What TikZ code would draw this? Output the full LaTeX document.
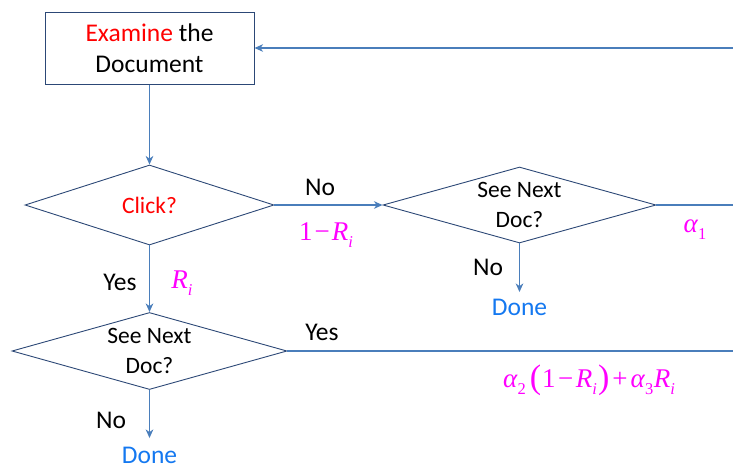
\documentclass[tikz,border=0pt]{standalone}
\usepackage{amsmath}
\usepackage{fontspec}
\setmainfont{Carlito}
\newfontfamily\timesfont{Liberation Serif}
\usetikzlibrary{shapes.geometric,arrows.meta,positioning}
\definecolor{linkblue}{RGB}{74,126,187}
\definecolor{edgeblue}{RGB}{44,72,118}
\definecolor{examred}{RGB}{255,0,0}
\definecolor{probmag}{RGB}{255,0,255}
\definecolor{doneblue}{RGB}{20,120,240}
% lowered index and tall brackets for the probabilities
\newcommand\idx[1]{\raisebox{-0.27em}{\fontsize{16.5}{16.5}\selectfont #1}}
\newcommand\tallbr[1]{{\fontsize{34}{34}\selectfont\raisebox{-1.5pt}{#1}}}
\tikzstyle{process} = [draw=edgeblue, line width=1pt, rectangle, inner sep=0pt,
    minimum width=209pt, minimum height=72pt, align=center,
    font=\fontsize{25.5}{31}\selectfont]
\tikzstyle{decision} = [draw=edgeblue, line width=0.9pt, diamond, inner sep=0pt]
\tikzstyle{asktext} = [align=center, inner sep=0pt, font=\fontsize{23.5}{30}\selectfont]
\tikzstyle{link} = [draw=linkblue, line width=1.5pt]
\tikzstyle{linkarrow} = [link, -{Stealth[length=8.5pt,width=7.5pt,inset=2.5pt]}]
\tikzstyle{answer} = [anchor=base, inner sep=0pt, font=\fontsize{25.5}{31}\selectfont]
\tikzstyle{prob} = [anchor=base, inner sep=0pt, text=probmag, font=\timesfont\fontsize{27}{31}\selectfont]
\tikzstyle{finish} = [answer, anchor=center, text=doneblue]

\begin{document}
\begin{tikzpicture}[x=1pt, y=1pt]
  \useasboundingbox (0,0) rectangle (733,-469);
  \node [process] (exam) at (149.5,-48) {\textcolor{examred}{Examine} the\\Document};
  \node [decision, minimum width=249pt, minimum height=80pt, below of=exam, node distance=157pt,
    label={[asktext, text=examred]center:Click?}] (click) {};
  \node [decision, minimum width=273pt, minimum height=76pt, right of=click, node distance=370pt,
    label={[asktext]center:{See Next\\Doc?}}] (next1) {};
  \node [decision, minimum width=275pt, minimum height=77pt, below of=click, node distance=146pt,
    label={[asktext]center:{See Next\\Doc?}}] (next2) {};
  \node [finish, below of=next1, node distance=102pt] (done1) {Done};
  \node [finish, below of=next2, node distance=104pt] (done2) {Done};
  % right edge, the loop back is cut off
  \coordinate (rtop) at (733,-48);
  \coordinate (rmid) at (733,-205);
  \coordinate (rlow) at (733,-351);

  \draw [linkarrow] (exam) -- (click);
  \draw [linkarrow] (click) -- (next1);
  \draw [linkarrow] (click) -- (next2);
  \draw [link] (next1) -- (rmid);
  \draw [link] (next2) -- (rlow);
  \draw [linkarrow] (rtop) -- (exam);
  \draw [linkarrow, shorten >=6.5pt] (next1) -- (done1);
  \draw [linkarrow, shorten >=8.5pt] (next2) -- (done2);

  \node [answer] (no1) at (320,-195) {No};
  \node [prob] (miss) at (326,-240) {1\kern2pt−\kern2pt\textit{R}\idx{\textit{i}}};
  \node [answer] (yes1) at (120,-290) {Yes};
  \node [prob] (hit) at (182,-288) {\textit{R}\idx{\textit{i}}};
  \node [answer] (no2) at (488,-275) {No};
  \node [prob] (a1) at (695,-232) {\textit{α}\idx{1}};
  \node [answer] (yes2) at (322,-340) {Yes};
  \node [prob] (amix) at (589,-387) {\textit{α}\idx{2}\kern4pt\tallbr{(}\kern1pt1\kern2.5pt−\kern2.5pt\textit{R}\idx{\textit{i}}\kern1pt\tallbr{)}\kern3pt+\kern3pt\textit{α}\idx{3}\kern0.5pt\textit{R}\idx{\textit{i}}};
  \node [answer] (no3) at (111,-428) {No};
\end{tikzpicture}
\end{document}
